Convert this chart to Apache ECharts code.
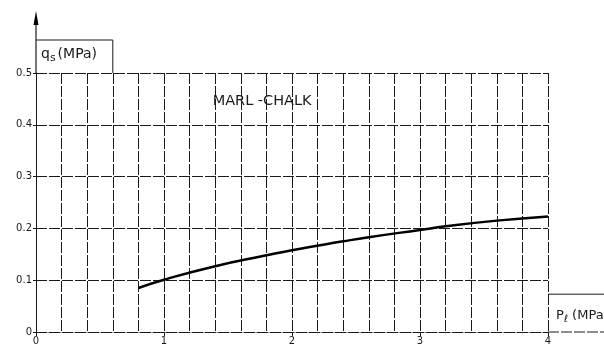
<!DOCTYPE html>
<html>
<head>
<meta charset="utf-8">
<script src="https://cdn.jsdelivr.net/npm/echarts@6/dist/echarts.min.js"></script>
<style>
html,body{margin:0;padding:0;background:#fff;}
#c{width:604px;height:349px;}
</style>
</head>
<body>
<div id="c"></div>
<script>
// Data
const pl = [0.8, 1.0, 1.4, 1.8, 2.0, 2.4, 2.6, 3.0, 3.2, 3.6, 4.0];
const qs = [0.085, 0.101, 0.127, 0.148, 0.158, 0.175, 0.183, 0.197, 0.204, 0.215, 0.223];
const xTicks = [0, 1, 2, 3, 4];
const yTicks = [0, 0.1, 0.2, 0.3, 0.4, 0.5];
const curveLabel = 'MARL -CHALK';
const yName = '(MPa)';
const xName = '(MPa)';

const FONT = 'DejaVu Sans';
const INK = '#1a1a1a';
const dash = [11, 2];

const chart = echarts.init(document.getElementById('c'), null, {renderer: 'canvas'});

const option = {
  backgroundColor: '#fff',
  animation: false,
  grid: {left: 36, right: 56, top: 73, bottom: 17, containLabel: false},
  xAxis: [
    {
      type: 'value', min: 0, max: 4, interval: 0.2,
      axisLine: {show: true, lineStyle: {color: INK, width: 1, type: dash}},
      axisTick: {show: false},
      axisLabel: {show: false},
      splitLine: {show: true, lineStyle: {color: INK, width: 1, type: dash}}
    },
    {
      type: 'value', min: 0, max: 4, interval: 1, position: 'bottom',
      axisLine: {show: false},
      axisTick: {show: true, length: 4, inside: false, lineStyle: {color: INK}},
      axisLabel: {show: true, color: INK, fontFamily: FONT, fontSize: 10, margin: 4,
        formatter: v => xTicks.indexOf(v) >= 0 ? String(v) : ''},
      splitLine: {show: false}
    }
  ],
  yAxis: {
    type: 'value', min: 0, max: 0.5, interval: 0.1,
    axisLine: {show: true, lineStyle: {color: INK, width: 1}},
    axisTick: {show: true, length: 3, lineStyle: {color: INK}},
    axisLabel: {color: INK, fontFamily: FONT, fontSize: 10, margin: 4,
      formatter: v => { const t = yTicks.find(k => Math.abs(k - v) < 1e-9); return t === undefined ? '' : (t === 0 ? '0' : t.toFixed(1)); }},
    splitLine: {show: true, lineStyle: {color: INK, width: 1, type: dash}}
  },
  series: [{
    type: 'line',
    xAxisIndex: 0,
    data: pl.map((x, i) => [x, qs[i]]),
    smooth: true,
    showSymbol: false,
    lineStyle: {color: '#000', width: 2.5}
  }]
};
chart.setOption(option);

function px(x, y) { return chart.convertToPixel({xAxisIndex: 0, yAxisIndex: 0}, [x, y]); }

const o = px(0, 0);
const corner = px(4, 0.5);
const boxR = px(0.6, 0.5);
const rBoxTop = px(4, 0.073);
const lab = px(1.38, 0.46);
const W = 604;

chart.setOption({
  graphic: [
    {type: 'line', shape: {x1: o[0], y1: corner[1], x2: o[0], y2: 20}, style: {stroke: INK, lineWidth: 1.2}},
    {type: 'polygon', shape: {points: [[o[0], 11], [o[0] - 2.5, 25], [o[0] + 2.5, 25]]}, style: {fill: '#000'}},
    {type: 'polyline', shape: {points: [[o[0], 40], [boxR[0], 40], [boxR[0], corner[1]]]}, style: {stroke: INK, lineWidth: 1, fill: null}},
    {type: 'text', x: o[0] + 5, y: 47, style: {
      text: '{a|q}{b|s}{a|' + yName + '}', rich: {
        a: {fontFamily: FONT, fontSize: 14, fill: INK, verticalAlign: 'top'},
        b: {fontFamily: FONT, fontSize: 11, fill: INK, padding: [6, 2, 0, 0], verticalAlign: 'top'}
      }}},
    {type: 'text', x: lab[0], y: lab[1], style: {text: curveLabel, fontFamily: FONT, fontSize: 14.5, fill: INK}},
    {type: 'line', shape: {x1: corner[0], y1: o[1], x2: W, y2: o[1]}, style: {stroke: INK, lineWidth: 1, lineDash: dash}},
    {type: 'line', shape: {x1: rBoxTop[0], y1: rBoxTop[1], x2: W, y2: rBoxTop[1]}, style: {stroke: INK, lineWidth: 1}},
    {type: 'text', x: rBoxTop[0] + 8, y: rBoxTop[1] + 15, style: {
      text: '{a|P}{b|ℓ}{a| ' + xName + '}', rich: {
        a: {fontFamily: FONT, fontSize: 13, fill: INK, verticalAlign: 'top'},
        b: {fontFamily: FONT, fontSize: 10, fill: INK, padding: [5, 0, 0, 0], verticalAlign: 'top'}
      }}}
  ]
});
</script>
</body>
</html>
